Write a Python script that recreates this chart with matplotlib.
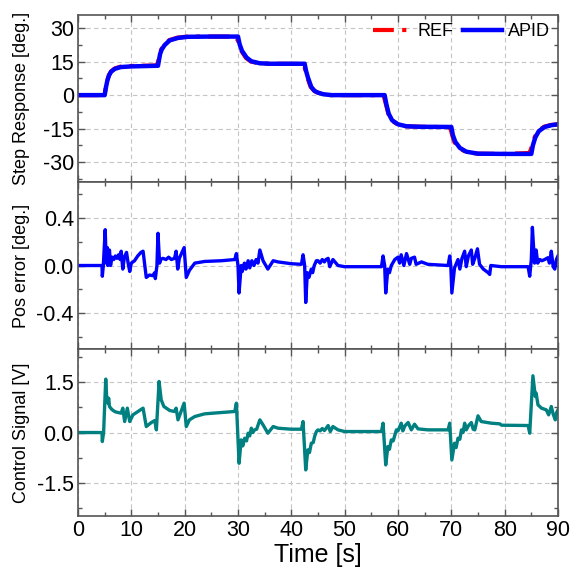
import numpy as np
import matplotlib
matplotlib.use("Agg")
import matplotlib.pyplot as plt
from matplotlib.ticker import MultipleLocator

plt.rcParams['font.family'] = ['Liberation Sans', 'DejaVu Sans']
plt.rcParams['axes.unicode_minus'] = False

# step response: reference trajectory (REF)
t_ref = [0, 4.9, 5.0, 5.2, 5.5, 5.8, 6.2, 6.9, 8.0, 10, 14.7,
         14.95, 15.15, 15.35, 15.65, 16.2, 17.1, 18.6, 20.5, 29.4,
         29.7, 30.0, 30.25, 30.7, 31.5, 32.4, 34.0, 36, 42.2,
         42.45, 42.7, 43.0, 43.6, 44.3, 45, 46, 47.5, 57.3,
         57.5, 57.75, 58.2, 58.85, 59.9, 61.5, 64, 69.6,
         69.9, 70.2, 70.6, 71.5, 72.7, 75, 80, 84.6,
         84.9, 85.2, 85.65, 86.3, 87.4, 88.7, 90]
ref = [0, 0, 0.3, 3.2, 6.7, 9.0, 10.7, 12.0, 12.8, 13.1, 13.3,
       14.5, 16.3, 18.7, 20.7, 22.6, 24.7, 25.8, 26.3, 26.3,
       25.6, 24.5, 22.6, 19.6, 16.7, 15.1, 14.3, 14.1, 14.0,
       12.8, 10.8, 8.0, 3.8, 1.9, 1.1, 0.4, 0, 0,
       -2.0, -4.2, -8.4, -11.4, -13.2, -14.0, -14.2, -14.4,
       -15.5, -18.3, -21.2, -23.8, -25.5, -26.3, -26.4, -26.0,
       -24.5, -22.2, -18.8, -16.0, -14.2, -13.4, -13.1]

# step response: measured (APID)
t_apid = [0, 5.0, 5.2, 5.5, 5.8, 6.2, 6.9, 8.0, 10, 15.0,
          15.2, 15.4, 15.7, 16.25, 17.2, 18.75, 20.6, 25, 30.0,
          30.3, 30.75, 31.6, 32.5, 34.1, 36, 42.5,
          42.75, 43.1, 43.75, 44.4, 45, 46, 47.5, 57.5,
          57.8, 58.25, 58.9, 60, 61.6, 64, 70.0,
          70.3, 70.75, 71.6, 72.8, 75, 80, 85.0,
          85.3, 85.75, 86.4, 87.5, 88.75, 90]
apid = [0, 0, 3.0, 6.5, 8.8, 10.5, 11.8, 12.6, 12.9, 13.2,
        16.0, 18.5, 20.5, 22.5, 24.6, 25.7, 26.2, 26.3, 26.3,
        22.9, 19.9, 16.9, 15.2, 14.3, 14.1, 14.1,
        11.0, 8.0, 3.6, 1.8, 1.1, 0.4, 0, 0,
        -3.9, -8.3, -11.3, -13.1, -14.0, -14.2, -14.3,
        -18.0, -21.0, -23.7, -25.4, -26.3, -26.4, -26.4,
        -22.5, -19.0, -16.2, -14.3, -13.5, -13.1]

# position error
t_err = [0, 4.5, 4.56, 4.75, 5.1, 5.3, 5.5, 5.6, 5.9, 6.1, 6.4, 6.7, 7.0, 7.3,
         7.6, 7.9, 8.1, 8.4, 8.7, 9.1, 9.4, 9.7, 10.0, 10.6, 11.2, 11.8, 12.2,
         12.8, 13.4, 14.0, 14.4, 14.5, 14.8, 15.0, 15.3, 15.5, 15.9, 16.5, 17.0,
         17.5, 18.1, 18.4, 18.7, 19.0, 19.9, 20.3, 20.9, 21.9, 23.75, 26.9, 29.4,
         29.7, 30.0, 30.2, 30.6, 30.8, 31.2, 31.5, 31.9, 32.2, 32.6, 33.0, 33.4,
         33.75, 34.1, 34.7, 35.6, 36.6, 37.5, 40.0, 41.9, 42.2, 42.5, 42.7, 43.0,
         43.3, 43.75, 44.0, 44.3, 44.7, 45.0, 45.4, 45.8, 46.2, 46.5, 46.9, 47.2,
         47.8, 48.75, 50, 56.9, 57.2, 57.5, 57.7, 58.1, 58.4, 58.75, 59.4, 60.0,
         60.3, 60.6, 61.1, 61.6, 62.2, 62.5, 63.1, 63.4, 64.4, 65.6, 69.4, 69.7,
         69.9, 70.1, 70.6, 71.25, 71.6, 72.0, 72.5, 72.8, 73.2, 73.75, 74.0, 74.4,
         74.9, 75.3, 76.0, 76.9, 77.2, 77.4, 79.4, 84.4, 84.7, 85.0, 85.2, 85.6,
         85.9, 86.2, 86.6, 87.0, 87.5, 88.1, 88.4, 88.75, 89.1, 89.4, 89.7, 90]
err = [0, 0, -0.09, 0.0, 0.30, 0.02, 0.15, 0.0, 0.13, 0.0, 0.07, 0.05, 0.08, 0.06,
       0.09, 0.05, 0.12, -0.03, 0.07, 0.11, 0.02, -0.05, 0.02, 0.04, 0.08, 0.11, 0.12,
       -0.10, -0.08, -0.085, -0.06, -0.11, 0.0, 0.27, 0.02, 0.05, 0.06, 0.05, 0.07,
       0.05, 0.06, 0.12, -0.03, 0.06, 0.15, -0.10, -0.04, 0.02, 0.034, 0.04, 0.05,
       0.10, 0.0, -0.23, 0.0, -0.05, 0.02, -0.03, 0.04, -0.02, 0.04, 0.0, 0.05,
       0.02, 0.13, 0.04, -0.03, 0.04, 0.03, 0.015, 0.01, 0.09, 0.0, -0.31, -0.06,
       -0.10, -0.03, -0.06, 0.0, 0.04, 0.04, 0.02, 0.05, 0.03, 0.05, 0.06, -0.01,
       0.05, 0.0, -0.01, -0.01, 0.08, 0.0, -0.23, -0.03, -0.06, 0.0, 0.05, 0.07,
       0.02, 0.09, 0.0, 0.10, 0.01, 0.06, 0.07, 0.01, 0.03, 0.01, 0.0, 0.08,
       0.0, -0.23, -0.02, 0.05, -0.03, 0.06, 0.12, -0.01, 0.08, 0.13, 0.01, 0.06,
       0.14, 0.01, -0.03, -0.06, -0.075, 0.0, -0.01, -0.01, -0.09, 0.05, 0.32, 0.02,
       0.13, 0.02, 0.05, 0.04, 0.05, 0.065, 0.02, 0.12, -0.01, -0.03, 0.05, 0.08]

# control signal
t_u = [0, 4.5, 4.56, 4.8, 5.2, 5.4, 5.6, 5.75, 5.9, 6.3, 6.6, 7.0, 7.5, 8.1,
       8.4, 8.75, 9.25, 9.7, 10.3, 11.25, 12.2, 12.8, 13.75, 14.4, 14.7, 15.2,
       15.6, 16.1, 17.2, 18.1, 18.4, 18.75, 19.9, 20.3, 20.9, 21.9, 23.75, 26.9,
       29.4, 29.7, 30.2, 30.6, 30.9, 31.25, 31.6, 31.9, 32.2, 32.5, 32.8, 33.1,
       33.5, 34.1, 34.7, 35.6, 36.6, 37.5, 40, 41.9, 42.2, 42.7, 43.1, 43.4,
       43.75, 44.1, 44.4, 44.7, 45.0, 45.4, 45.8, 46.2, 46.5, 46.9, 47.3, 47.8,
       48.75, 50, 56.9, 57.2, 57.7, 58.1, 58.4, 58.75, 59.1, 59.7, 60.0, 60.6,
       60.9, 61.3, 61.9, 62.5, 63.1, 63.75, 65.6, 69.4, 69.7, 70.1, 70.6, 70.9,
       71.25, 71.6, 71.9, 72.2, 72.5, 72.8, 73.2, 73.75, 74.1, 74.4, 75, 75.6,
       77.5, 79.1, 79.4, 84.4, 84.7, 85.3, 85.75, 85.9, 86.25, 86.9, 87.8, 88.25,
       88.75, 89.1, 89.5, 89.75, 90]
u = [0, 0, -0.27, 0.0, 1.6, 1.0, 0.88, 1.03, 0.78, 0.70, 0.66, 0.62, 0.60, 0.58,
     0.73, 0.33, 0.73, 0.33, 0.53, 0.63, 0.73, 0.18, 0.30, 0.36, 0.08, 1.53,
     0.98, 0.78, 0.66, 0.63, 0.73, 0.38, 0.88, 0.18, 0.38, 0.48, 0.56, 0.60,
     0.63, 0.88, -0.92, -0.22, -0.40, -0.17, -0.25, -0.02, -0.10, 0.13, 0.0, 0.08,
     0.10, 0.38, 0.23, -0.02, 0.18, 0.13, 0.10, 0.10, 0.33, -1.12, -0.52, -0.60,
     -0.32, -0.30, -0.10, 0.03, 0.08, 0.05, 0.12, 0.06, 0.12, 0.21, 0.03, 0.18,
     0.08, 0.03, 0.03, 0.28, -0.97, -0.42, -0.50, -0.22, -0.25, 0.08, 0.05, 0.28,
     0.05, 0.20, 0.30, 0.08, 0.25, 0.11, 0.08, 0.08, 0.28, -0.82, -0.32, -0.45,
     -0.17, -0.20, 0.08, 0.0, 0.28, 0.08, 0.20, 0.30, 0.10, 0.08, 0.50, 0.33,
     0.28, 0.26, 0.22, 0.21, -0.02, 1.70, 1.08, 1.18, 0.83, 0.73, 0.68, 0.53,
     0.78, 0.55, 0.38, 0.60, 0.68]

fig = plt.figure(figsize=(5.71, 5.74), dpi=100)
left, width, height = 0.1366, 0.8406, 0.2909
ax1 = fig.add_axes([left, 0.683, width, height])
ax2 = fig.add_axes([left, 0.392, width, height])
ax3 = fig.add_axes([left, 0.101, width, height])

edge = '#555555'
for ax in (ax1, ax2, ax3):
    ax.set_xlim(0, 90)
    ax.xaxis.set_major_locator(MultipleLocator(10))
    ax.xaxis.set_minor_locator(MultipleLocator(5))
    ax.grid(True, which='major', linestyle=(0, (4, 3)), color='#c4c4c4', lw=0.8)
    ax.set_axisbelow(True)
    ax.tick_params(which='both', direction='in', top=True, right=True,
                   color=edge, labelsize=15.5, pad=3)
    ax.tick_params(which='major', length=5, width=1)
    ax.tick_params(which='minor', length=3, width=1)
    for s in ax.spines.values():
        s.set_color(edge)
        s.set_linewidth(1.2)
    ax.yaxis.set_label_coords(-0.1, 0.5)

ax1.plot(t_ref, ref, color='red', lw=3, linestyle=(0, (5, 2, 1, 2)), label='REF')
ax1.plot(t_apid, apid, color='blue', lw=3.2, label='APID')
ax1.set_ylim(-39, 36)
ax1.yaxis.set_major_locator(MultipleLocator(15))
ax1.yaxis.set_minor_locator(MultipleLocator(7.5))
ax1.set_ylabel('Step Response [deg.]', fontsize=13)
ax1.tick_params(labelbottom=False)
ax1.legend(loc='upper right', ncol=2, frameon=False, fontsize=13,
           handlelength=2.2, handletextpad=0.3, columnspacing=0.5,
           borderaxespad=0.1, borderpad=0.35)

ax2.plot(t_err, err, color='blue', lw=2.4)
ax2.set_ylim(-0.7, 0.7)
ax2.yaxis.set_major_locator(MultipleLocator(0.4))
ax2.yaxis.set_minor_locator(MultipleLocator(0.2))
ax2.set_ylabel('Pos error [deg.]', fontsize=13)
ax2.tick_params(labelbottom=False)

ax3.plot(t_u, u, color='#008080', lw=2.4)
ax3.set_ylim(-2.5, 2.5)
ax3.yaxis.set_major_locator(MultipleLocator(1.5))
ax3.yaxis.set_minor_locator(MultipleLocator(0.75))
ax3.set_ylabel('Control Signal [V]', fontsize=13)
ax3.set_xlabel('Time [s]', fontsize=18, labelpad=1)

fig.savefig('out.png', dpi=100)
